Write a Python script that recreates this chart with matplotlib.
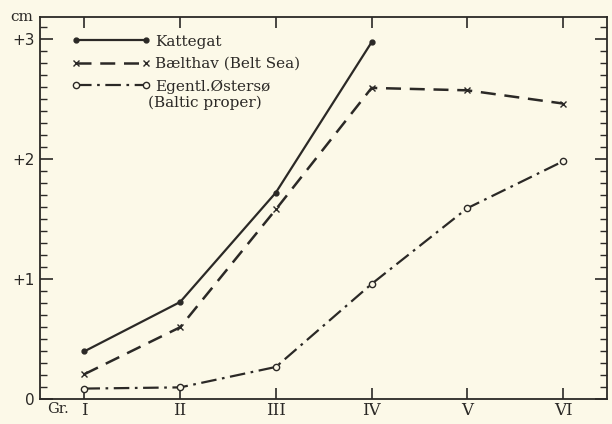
import matplotlib.pyplot as plt
from matplotlib.ticker import MultipleLocator
from matplotlib.transforms import blended_transform_factory

groups = [1, 2, 3, 4, 5, 6]
group_labels = ['I', 'II', 'III', 'IV', 'V', 'VI']

kattegat_x = [1, 2, 3, 4]
kattegat = [0.40, 0.81, 1.72, 2.97]
belthav = [0.21, 0.60, 1.58, 2.59, 2.57, 2.46]
baltic = [0.09, 0.10, 0.27, 0.96, 1.59, 1.98]

ink = '#2b2926'
paper = '#fcf9e8'

fig = plt.figure(figsize=(6.12, 4.24), dpi=100, facecolor=paper)
ax = fig.add_axes([0.066, 0.058, 0.926, 0.902], facecolor=paper)

ax.plot(kattegat_x, kattegat, color=ink, lw=1.6, ls='-',
        marker='o', ms=3.5, mfc=ink, mec=ink, label='Kattegat')
ax.plot(groups, belthav, color=ink, lw=1.8, ls=(0, (6, 3.5)),
        marker='x', ms=4, mew=1.0, label='Bælthav (Belt Sea)')
ax.plot(groups, baltic, color=ink, lw=1.6, ls=(0, (7, 2.5, 1.2, 2.5)),
        marker='o', ms=4.5, mfc=paper, mec=ink, mew=1.0,
        label='Egentl.Østersø')

ax.set_xlim(0.54, 6.46)
ax.set_ylim(0, 3.18)

for s in ax.spines.values():
    s.set_color(ink)
    s.set_linewidth(1.3)

ax.set_xticks(groups)
ax.set_xticklabels(group_labels, family='DejaVu Serif', fontsize=12)
ax.tick_params(axis='x', direction='in', top=True, bottom=True,
               length=8, width=1.2, color=ink, labelcolor=ink, pad=2)

ax.yaxis.set_major_locator(MultipleLocator(1))
ax.yaxis.set_minor_locator(MultipleLocator(0.1))
ax.set_yticks([0, 1, 2, 3])
ax.set_yticklabels(['0', '+1', '+2', '+3'], family='DejaVu Sans', fontsize=11)
ax.tick_params(axis='y', which='major', direction='in', left=True, right=True,
               length=9, width=1.2, color=ink, labelcolor=ink, pad=4)
ax.tick_params(axis='y', which='minor', direction='in', left=True, right=True,
               length=5, width=1.0, color=ink)

trans = blended_transform_factory(ax.transAxes, ax.transData)
ax.text(-0.012, 3.12, 'cm', transform=trans, ha='right', va='bottom',
        family='DejaVu Serif', fontsize=11, color=ink)
ax.text(0.012, -0.006, 'Gr.', transform=ax.transAxes, ha='left', va='top',
        family='DejaVu Serif', fontsize=10.5, color=ink)

leg = ax.legend(loc='upper left', bbox_to_anchor=(0.03, 0.99), frameon=False,
                numpoints=2, handlelength=5.2, handletextpad=0.3,
                labelspacing=0.55, prop={'family': 'DejaVu Serif', 'size': 11})
for t in leg.get_texts():
    t.set_color(ink)
ax.text(0.19, 0.775, '(Baltic proper)', transform=ax.transAxes, ha='left',
        va='center', family='DejaVu Serif', fontsize=11, color=ink)

fig.savefig('out.png', dpi=100, facecolor=paper)
